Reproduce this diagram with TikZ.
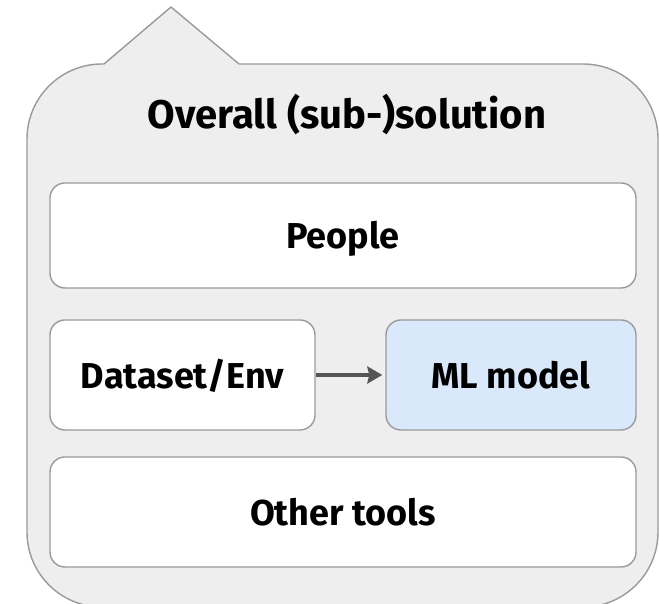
\documentclass[tikz,border=0pt]{standalone}
\usepackage{fontspec}
\setmainfont{Fira Sans}
\usetikzlibrary{arrows.meta}
\definecolor{outerfill}{HTML}{EEEEEE}
\definecolor{edgegray}{HTML}{9A9A9A}
\definecolor{mlblue}{HTML}{DAE8FC}
\definecolor{arrowgray}{HTML}{555555}
\tikzset{
	part/.style={draw=edgegray,line width=1.4pt,fill=white,rounded corners=15pt,
		font=\fontsize{36}{40}\selectfont\bfseries,text height=32pt,text depth=5pt},
}
\begin{document}
\begin{tikzpicture}[x=1pt,y=1pt,>=Stealth, line join=round, line cap=round]
	\useasboundingbox (0,0) rectangle (659,604);
	% outer callout
	\draw[draw=edgegray,line width=1.4pt,fill=outerfill]
	(104,540)--(171,597)--(239,540)--(583,540) arc[start angle=90,end angle=0,radius=75]
	--(658,72) arc[start angle=0,end angle=-90,radius=75]
	--(102,-3) arc[start angle=270,end angle=180,radius=75]
	--(27,465) arc[start angle=180,end angle=90,radius=75]--cycle;
	\path 
	(347,475)node[anchor=base,font=\fontsize{40}{44}\selectfont\bfseries] (title) {Overall (sub-)solution}
	(343,368.5)node[part,minimum width=586pt,minimum height=105pt] (people) {People}
	(182.5,229)node[part,minimum width=265pt,minimum height=110pt] (data) {Dataset/Env}
	(511,229)node[part,fill=mlblue,minimum width=250pt,minimum height=110pt] (ml) {ML model}
	(343,92)node[part,minimum width=586pt,minimum height=110pt] (tools) {Other tools}
	;
	\draw[->,arrowgray,line width=3.5pt,line cap=butt,shorten <=0.7pt,shorten >=3pt,>={Stealth[length=15pt,width=17pt,inset=2pt]}](data)--(ml);
\end{tikzpicture}
\end{document}
